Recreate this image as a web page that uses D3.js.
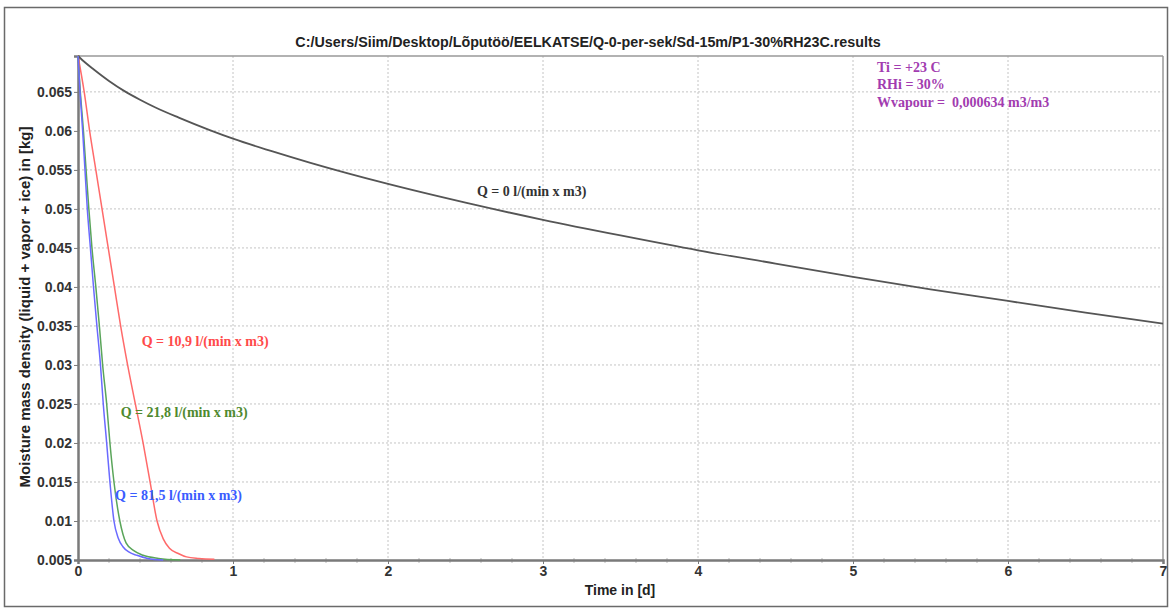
<!DOCTYPE html>
<html><head><meta charset="utf-8">
<script src="https://cdn.jsdelivr.net/npm/d3@7"></script>
<style>body{margin:0;background:#fff;} svg{display:block;}</style>
</head><body>
<svg id="c" width="1172" height="608"></svg>
<script>
const titleText = "C:/Users/Siim/Desktop/Lõputöö/EELKATSE/Q-0-per-sek/Sd-15m/P1-30%RH23C.results";
const xTicks = [0,1,2,3,4,5,6,7];
const yTicks = [0.005,0.01,0.015,0.02,0.025,0.03,0.035,0.04,0.045,0.05,0.055,0.06,0.065];
const yTickLabels = ["0.005","0.01","0.015","0.02","0.025","0.03","0.035","0.04","0.045","0.05","0.055","0.06","0.065"];
const annotations = ["Ti = +23 C","RHi = 30%","Wvapour =  0,000634 m3/m3"];

const seriesNames = ["Q = 0 l/(min x m3)","Q = 10,9 l/(min x m3)","Q = 21,8 l/(min x m3)","Q = 81,5 l/(min x m3)"];
const q0 = [[0,0.0696],[0.05,0.0687],[0.1,0.0679],[0.2,0.0664],[0.3,0.0651],[0.4,0.0640],[0.5,0.0630],[0.65,0.0617],[0.85,0.0601],[1.0,0.0590],[1.25,0.0574],[1.5,0.0559],[2.0,0.0532],[2.5,0.0508],[3.0,0.0486],[3.5,0.0466],[4.0,0.0447],[4.5,0.0430],[5.0,0.0413],[5.5,0.0397],[6.0,0.0382],[6.5,0.0367],[7.0,0.0353]];
const q109 = [[0,0.0696],[0.04,0.065],[0.075,0.06],[0.115,0.055],[0.155,0.05],[0.195,0.045],[0.235,0.04],[0.275,0.035],[0.32,0.03],[0.37,0.025],[0.42,0.02],[0.465,0.015],[0.51,0.01],[0.55,0.0077],[0.59,0.0065],[0.65,0.0058],[0.70,0.0054],[0.78,0.0052],[0.88,0.0051]];
const q218 = [[0,0.0696],[0.015,0.065],[0.035,0.06],[0.052,0.055],[0.07,0.05],[0.09,0.045],[0.115,0.04],[0.138,0.035],[0.159,0.03],[0.185,0.025],[0.206,0.02],[0.232,0.015],[0.27,0.01],[0.29,0.0083],[0.31,0.0072],[0.36,0.0062],[0.42,0.0056],[0.52,0.0052],[0.66,0.0050]];
const q815 = [[0,0.0696],[0.013,0.065],[0.03,0.06],[0.045,0.055],[0.06,0.05],[0.08,0.045],[0.10,0.04],[0.122,0.035],[0.145,0.03],[0.163,0.025],[0.185,0.02],[0.206,0.015],[0.232,0.01],[0.26,0.0078],[0.29,0.0067],[0.33,0.006],[0.38,0.0056],[0.45,0.0052],[0.55,0.0050]];

const svg = d3.select("#c");
const L=78, R=1163, T=56, B=560;
const x = d3.scaleLinear().domain([0,7]).range([L,R]);
const y = d3.scaleLinear().domain([0.005,0.0696]).range([B,T]);

// outer frame
svg.append("rect").attr("x",4.5).attr("y",7.5).attr("width",1163).attr("height",599)
  .attr("fill","none").attr("stroke","#6a6a6a").attr("stroke-width",1.5);

// grid
const g = svg.append("g");
g.selectAll(".vg").data(xTicks.slice(1,-1)).join("line")
  .attr("x1",d=>x(d)).attr("x2",d=>x(d)).attr("y1",T).attr("y2",B)
  .attr("stroke","#c4c4c4").attr("stroke-dasharray","2,2");
g.selectAll(".hg").data(yTicks.slice(1)).join("line")
  .attr("x1",L).attr("x2",R).attr("y1",d=>y(d)).attr("y2",d=>y(d))
  .attr("stroke","#c4c4c4").attr("stroke-dasharray","2,2");

// plot border
svg.append("line").attr("x1",L).attr("x2",R).attr("y1",T).attr("y2",T).attr("stroke","#999").attr("stroke-width",1.5);
svg.append("line").attr("x1",R).attr("x2",R).attr("y1",T).attr("y2",B).attr("stroke","#999").attr("stroke-width",1.5);

// minor x ticks
const minor = d3.range(0,7.001,0.2).filter(v=>Math.abs(v-Math.round(v))>0.01);
svg.append("g").selectAll("line").data(minor).join("line")
  .attr("x1",d=>x(d)).attr("x2",d=>x(d)).attr("y1",B-2).attr("y2",B+3)
  .attr("stroke","#bbb").attr("stroke-width",1);

// axes
const tickFont = "Liberation Sans, Arial, sans-serif";
const xAxis = d3.axisBottom(x).tickValues(xTicks).tickSize(4).tickFormat(d3.format("d"));
const ax = svg.append("g").attr("transform",`translate(0,${B})`).call(xAxis);
ax.select(".domain").attr("stroke","#7a7a7a").attr("stroke-width",2.5);
ax.selectAll(".tick line").attr("stroke","#7a7a7a");
ax.selectAll("text").attr("font-family",tickFont).attr("font-weight","bold")
  .attr("font-size",14).attr("fill","#333").attr("dy","0.75em").attr("y",5);

const yAxis = d3.axisLeft(y).tickValues(yTicks).tickSize(4).tickFormat((d,i)=>yTickLabels[i]);
const ay = svg.append("g").attr("transform",`translate(${L},0)`).call(yAxis);
ay.select(".domain").attr("stroke","#7a7a7a").attr("stroke-width",2.5);
ay.selectAll(".tick line").attr("stroke","#7a7a7a");
ay.selectAll("text").attr("font-family",tickFont).attr("font-weight","bold")
  .attr("font-size",14).attr("fill","#333").attr("x",-6);

// lines
const line = d3.line().x(d=>x(d[0])).y(d=>y(d[1])).curve(d3.curveMonotoneX);
const series = [
  {data:q0, color:"#555555", w:1.8},
  {data:q109, color:"#ff6a6a", w:1.5},
  {data:q218, color:"#5aa55a", w:1.5},
  {data:q815, color:"#6a6aff", w:1.5}
];
svg.append("g").selectAll("path").data(series).join("path")
  .attr("d",d=>line(d.data)).attr("fill","none").attr("stroke",d=>d.color).attr("stroke-width",d=>d.w);

// labels
const labelPos = [[2.574,0.0517],[0.411,0.03237],[0.275,0.02339],[0.239,0.01263]];
const labelColors = ["#333333","#ff4a4a","#4f8a30","#3a5cff"];
svg.append("g").selectAll("text").data(seriesNames).join("text")
  .attr("x",(d,i)=>x(labelPos[i][0])).attr("y",(d,i)=>y(labelPos[i][1]))
  .attr("font-family","Liberation Serif, Times New Roman, serif").attr("font-weight","bold")
  .attr("font-size",14).attr("fill",(d,i)=>labelColors[i]).text(d=>d);

// annotation
svg.append("g").selectAll("text").data(annotations).join("text")
  .attr("x",877).attr("y",(d,i)=>71.5+i*17.5)
  .attr("font-family","Liberation Serif, Times New Roman, serif").attr("font-weight","bold")
  .attr("font-size",14).attr("fill","#a23cb0").style("white-space","pre").text(d=>d);

// title
svg.append("text").attr("x",588).attr("y",46.5).attr("text-anchor","middle")
  .attr("font-family","Liberation Sans, Arial, sans-serif").attr("font-weight","bold")
  .attr("font-size",14.3).attr("fill","#222").text(titleText);

// axis titles
svg.append("text").attr("x",620).attr("y",595).attr("text-anchor","middle")
  .attr("font-family","Liberation Sans, Arial, sans-serif").attr("font-weight","bold")
  .attr("font-size",14).attr("fill","#222").text("Time in [d]");
svg.append("text").attr("transform","translate(30,307) rotate(-90)").attr("text-anchor","middle")
  .attr("font-family","Liberation Sans, Arial, sans-serif").attr("font-weight","bold")
  .attr("font-size",15).attr("fill","#222").text("Moisture mass density (liquid + vapor + ice) in [kg]");
</script>
</body></html>
